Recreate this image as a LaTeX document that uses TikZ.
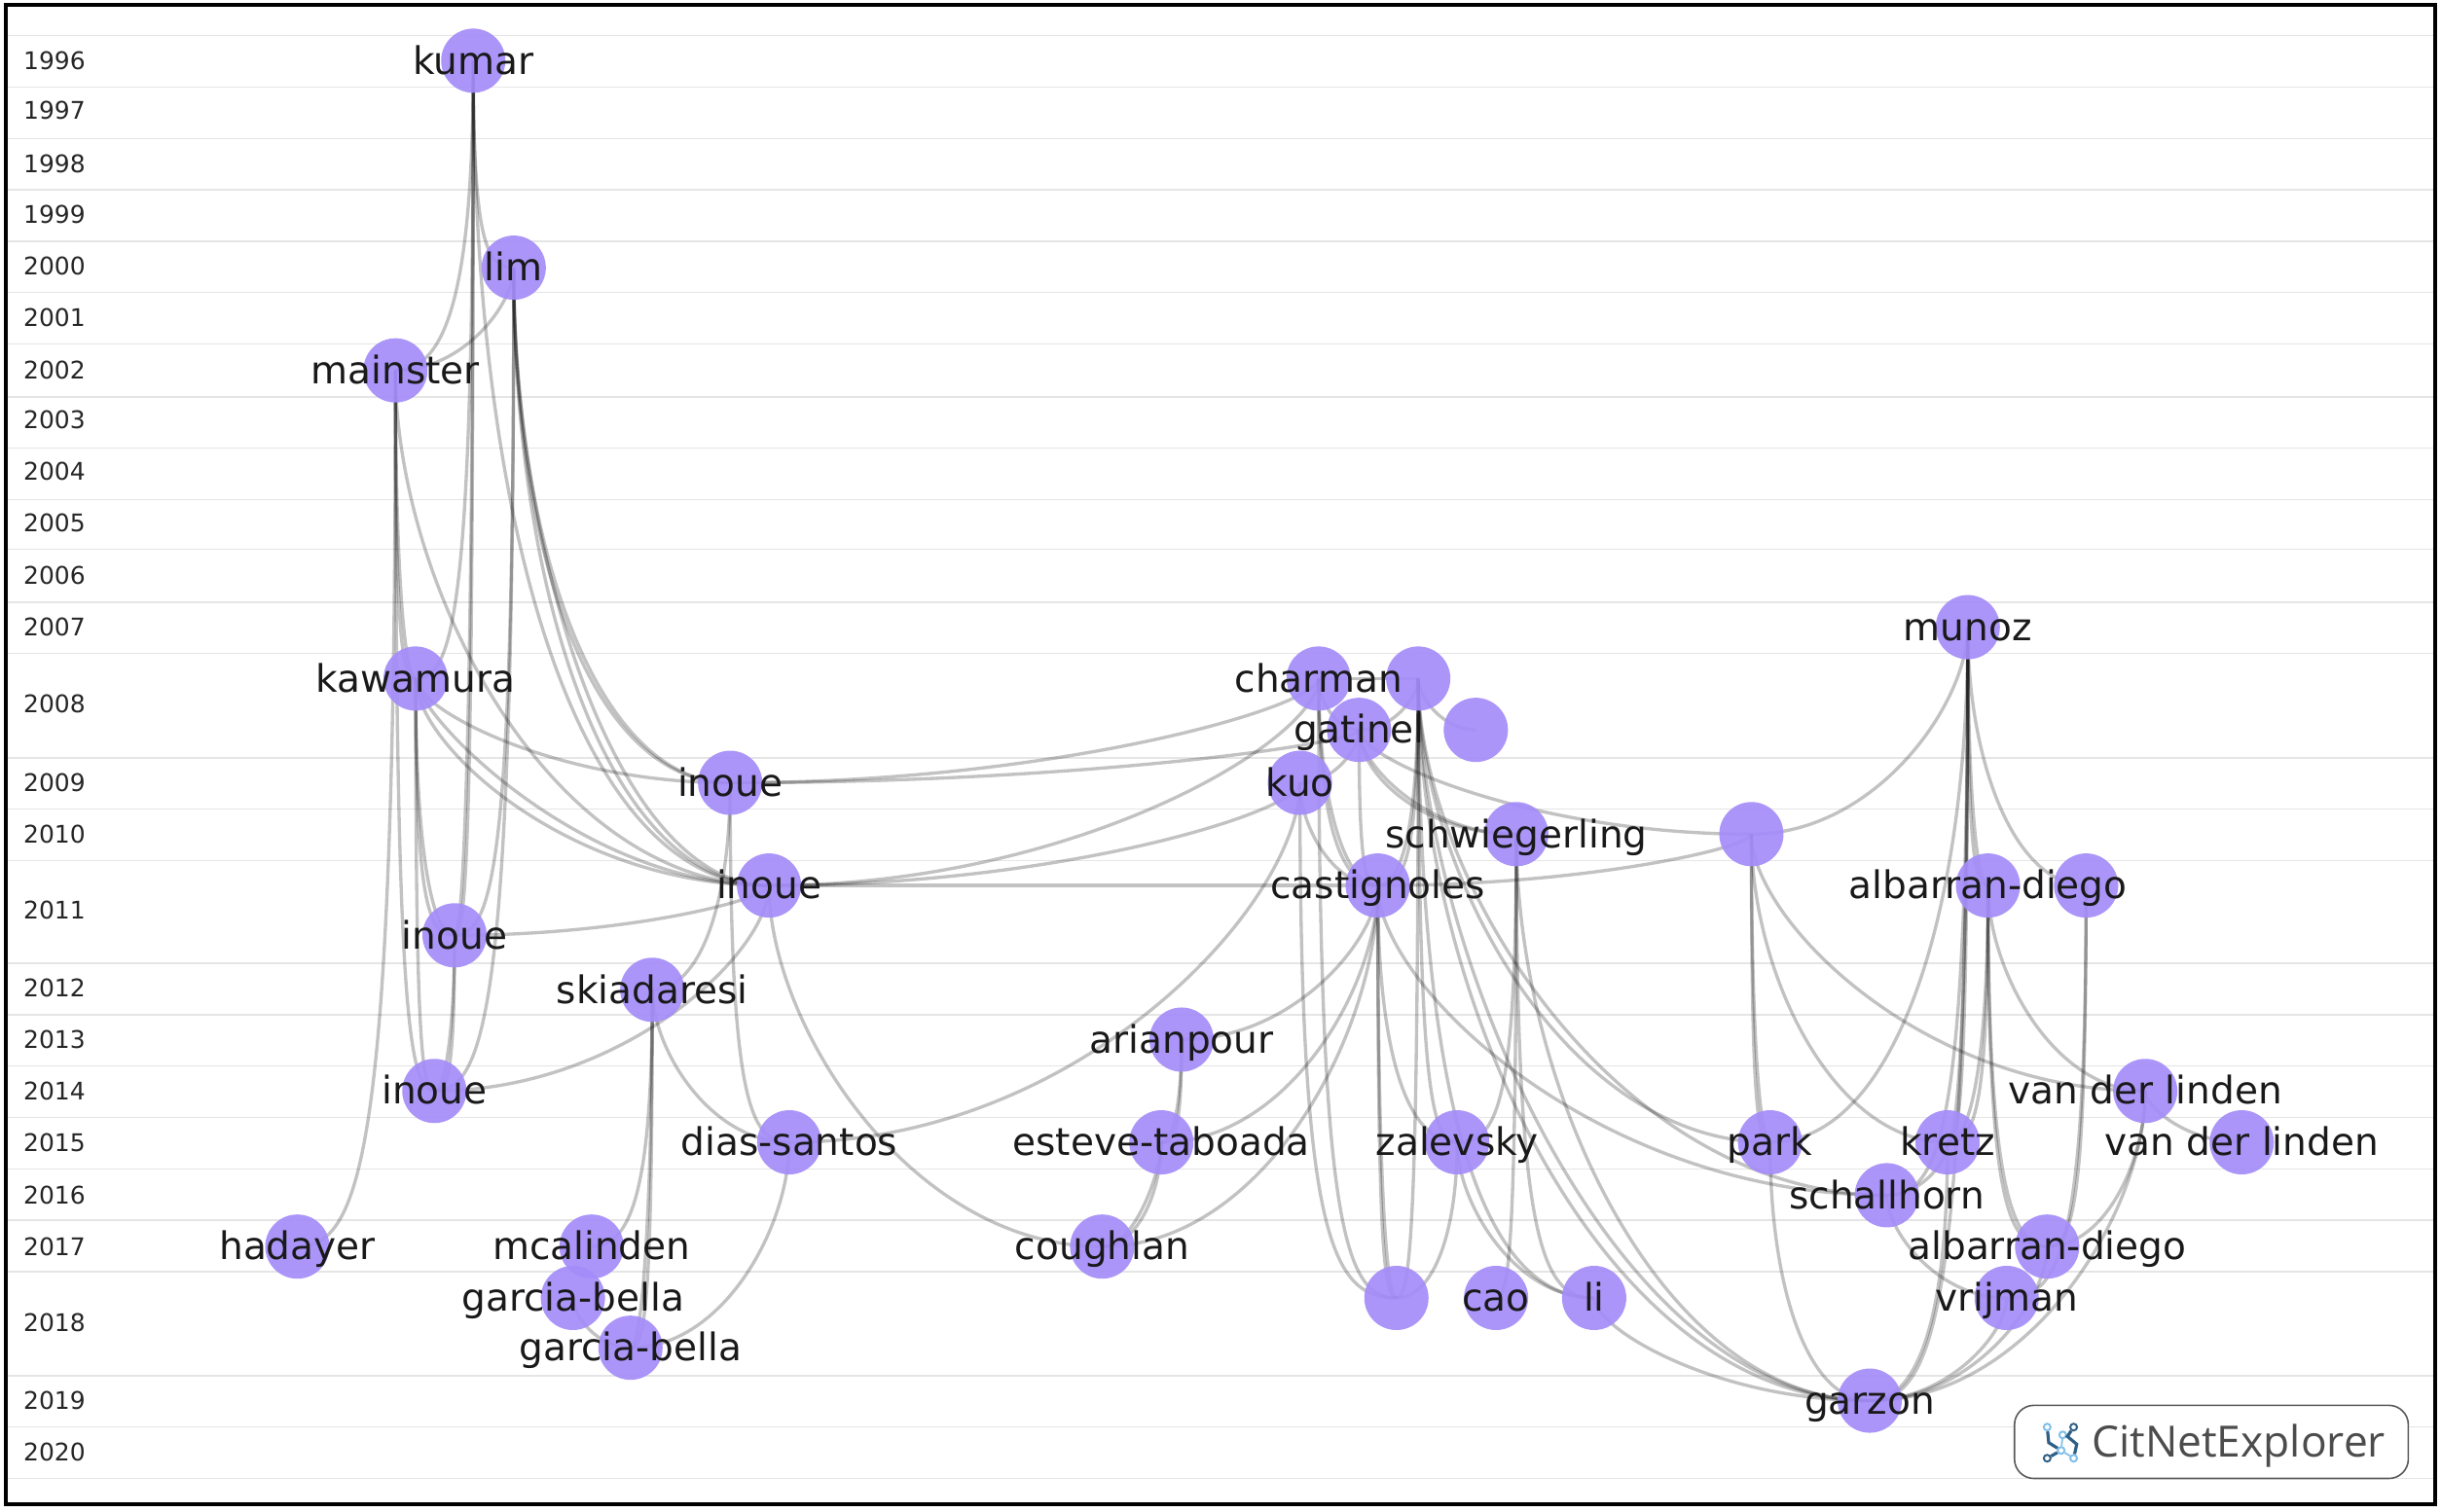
\documentclass[tikz,border=0pt]{standalone}
\usepackage{fontspec}
\setmainfont{DejaVu Sans}
\newfontfamily\logofont{Open Sans}
\usetikzlibrary{calc,backgrounds}

\definecolor{nodecol}{HTML}{A58DF9}
\definecolor{logodark}{HTML}{2F5F86}
\definecolor{logolight}{HTML}{7FBFE8}

\tikzset{
  link/.style={to path={let \p1=(\tikztostart),\p2=(\tikztotarget),
      \n1={min(.88,.25+.125*abs(\y2-\y1)/max(abs(\x2-\x1),1))+#1},\n2={.5+.2*\n1} in
    (\tikztostart.center) .. controls (\x1,{\y1+\n1*(\y2-\y1)}) and ({\x2+\n2*(\x1-\x2)},\y2) .. (\tikztotarget.center) \tikztonodes}},
  link/.default=0,
  gridline/.style={draw=black!10,line width=0.4pt}
}

\begin{document}
\begin{tikzpicture}[x=0.015995cm,y=-0.015995cm]
      \useasboundingbox (0,0) rectangle (1568,971);

      \begin{scope}[every node/.style={circle,fill=nodecol,fill opacity=.93,inner sep=0pt,minimum size=0.66cm}]
        \node (kumar)  at (304,39)  {};
        \node (lim)  at (330,172)  {};
        \node (mainster)  at (254,238)  {};
        \node (kawamura)  at (267,436)  {};
        \node (inoue1)  at (469,503)  {};
        \node (inoue2)  at (494,569)  {};
        \node (inoue3)  at (292,601)  {};
        \node (skiadaresi)  at (419,636)  {};
        \node (inoue4)  at (279,701)  {};
        \node (diassantos)  at (507,734)  {};
        \node (hadayer)  at (191,801)  {};
        \node (mcalinden)  at (380,801)  {};
        \node (garcia1)  at (368,834)  {};
        \node (garcia2)  at (405,866)  {};
        \node (charman)  at (847,436)  {};
        \node (blank1)  at (911,436)  {};
        \node (gatinel)  at (873,469)  {};
        \node (blank2)  at (948,469)  {};
        \node (kuo)  at (835,503)  {};
        \node (schwiegerling)  at (974,536)  {};
        \node (blank3)  at (1125,536)  {};
        \node (castignoles)  at (885,569)  {};
        \node (arianpour)  at (759,668)  {};
        \node (esteve)  at (746,734)  {};
        \node (coughlan)  at (708,801)  {};
        \node (zalevsky)  at (936,734)  {};
        \node (blank4)  at (897,834)  {};
        \node (cao)  at (961,834)  {};
        \node (li)  at (1024,834)  {};
        \node (munoz)  at (1264,403)  {};
        \node (albarran1)  at (1277,569)  {};
        \node (albarran2)  at (1340,569)  {};
        \node (linden1)  at (1378,701)  {};
        \node (linden2)  at (1440,734)  {};
        \node (park)  at (1137,734)  {};
        \node (kretz)  at (1251,734)  {};
        \node (schallhorn)  at (1212,768)  {};
        \node (albarran3)  at (1315,801)  {};
        \node (vrijman)  at (1289,834)  {};
        \node (garzon)  at (1201,900)  {};
      \end{scope}

      \begin{scope}[on background layer]
        \foreach \yy in {23,56,89,122,155,188,221,255,288,321,353,387,420,487,520,553,619,652,685,718,751,784,817,884,917,950}
          \draw[gridline] (3,\yy) -- (1563,\yy);

        \begin{scope}[every edge/.style={draw=black,draw opacity=.24,line width=0.95pt,link}]
          \path (kumar) edge (lim) edge (mainster) edge (kawamura) edge (inoue3) edge[link=-.25] (inoue3) edge (inoue2);
          \path (lim) edge (mainster) edge (inoue1) edge[link=.04] (inoue1) edge (inoue2) edge[link=-.08] (inoue2) edge (inoue3) edge (inoue4);
          \path (mainster) edge (kawamura) edge[link=-.3] (kawamura) edge (inoue4) edge (hadayer) edge (inoue2);
          \path (kawamura) edge (inoue1) edge (inoue2) edge[link=-.15] (inoue2) edge (inoue3) edge[link=-.25] (inoue3) edge (inoue4);
          \path (inoue3) edge (inoue4) edge[link=-.35] (inoue4);
          \path (inoue2) edge (inoue3) edge (inoue4) edge (coughlan);
          \path (inoue1) edge (skiadaresi) edge (diassantos);
          \path (skiadaresi) edge (diassantos) edge (mcalinden) edge (garcia2) edge[link=-.35] (garcia2);
          \path (garcia1) edge (garcia2);
          \path (diassantos) edge (garcia2);

          \path (charman) edge (inoue1) edge (inoue2) edge (gatinel) edge (castignoles) edge[link=-.15] (castignoles) edge (blank4);
          \path (gatinel) edge (inoue1) edge (kuo) edge (castignoles) edge (schwiegerling) edge[link=.1] (schwiegerling) edge (blank3);
          \path (kuo) edge (inoue2) edge (diassantos) edge (castignoles) edge (blank4);
          \path (blank1) edge (charman) edge (gatinel) edge (blank2) edge (castignoles) edge[link=-.2] (castignoles) edge (blank4) edge (zalevsky) edge (li) edge (park) edge (schallhorn) edge (garzon) edge[link=-.08] (garzon);
          \path (castignoles) edge (inoue2) edge (arianpour) edge (esteve) edge (coughlan) edge (zalevsky) edge (blank4) edge[link=-.25] (blank4) edge (schallhorn);
          \path (schwiegerling) edge (zalevsky) edge (cao) edge (li) edge (garzon);
          \path (zalevsky) edge (blank4) edge (li);
          \path (arianpour) edge (esteve) edge[link=-.3] (esteve);
          \path (esteve) edge (coughlan) edge[link=-.2] (coughlan);

          \path (blank3) edge (castignoles) edge (park) edge[link=-.3] (park) edge (kretz) edge (linden1);
          \path (munoz) edge (blank3) edge (park) edge (albarran1) edge[link=-.3] (albarran1) edge (albarran2) edge (kretz) edge[link=-.25] (kretz) edge (schallhorn) edge (garzon);
          \path (albarran1) edge (kretz) edge[link=-.25] (kretz) edge (albarran3) edge[link=-.1] (albarran3) edge (linden1);
          \path (albarran2) edge (albarran3) edge (vrijman);
          \path (linden1) edge (linden2) edge (albarran3) edge (garzon);
          \path (schallhorn) edge (vrijman);
          \path (kretz) edge (schallhorn) edge (garzon);
          \path (park) edge (garzon);
          \path (li) edge (garzon);
          \path (vrijman) edge (garzon);
          \path (albarran3) edge (garzon);
        \end{scope}
      \end{scope}

      % author names on top of the circles
      \begin{scope}[every node/.style={text=black!90,inner sep=0pt,text height=7.8pt,text depth=0pt,font=\fontsize{11.1}{13}\selectfont}]
        \node (kumarlab) at (kumar) {kumar};
        \node (limlab) at (lim) {lim};
        \node (mainsterlab) at (mainster) {mainster};
        \node (kawamuralab) at (kawamura) {kawamura};
        \node (inoue1lab) at (inoue1) {inoue};
        \node (inoue2lab) at (inoue2) {inoue};
        \node (inoue3lab) at (inoue3) {inoue};
        \node (skiadaresilab) at (skiadaresi) {skiadaresi};
        \node (inoue4lab) at (inoue4) {inoue};
        \node (diassantoslab) at (diassantos) {dias-santos};
        \node (hadayerlab) at (hadayer) {hadayer};
        \node (mcalindenlab) at (mcalinden) {mcalinden};
        \node (garcia1lab) at (garcia1) {garcia-bella};
        \node (garcia2lab) at (garcia2) {garcia-bella};
        \node (charmanlab) at (charman) {charman};
        \node (gatinellab) at (gatinel) {gatinel};
        \node (kuolab) at (kuo) {kuo};
        \node (schwiegerlinglab) at (schwiegerling) {schwiegerling};
        \node (castignoleslab) at (castignoles) {castignoles};
        \node (arianpourlab) at (arianpour) {arianpour};
        \node (estevelab) at (esteve) {esteve-taboada};
        \node (coughlanlab) at (coughlan) {coughlan};
        \node (zalevskylab) at (zalevsky) {zalevsky};
        \node (caolab) at (cao) {cao};
        \node (lilab) at (li) {li};
        \node (munozlab) at (munoz) {munoz};
        \node (albarran1lab) at (albarran1) {albarran-diego};
        \node (linden1lab) at (linden1) {van der linden};
        \node (linden2lab) at (linden2) {van der linden};
        \node (parklab) at (park) {park};
        \node (kretzlab) at (kretz) {kretz};
        \node (schallhornlab) at (schallhorn) {schallhorn};
        \node (albarran3lab) at (albarran3) {albarran-diego};
        \node (vrijmanlab) at (vrijman) {vrijman};
        \node (garzonlab) at (garzon) {garzon};
      \end{scope}

      \foreach \lab/\yy in {1996/39,1997/71,1998/105,1999/138,2000/171,2001/204,2002/238,2003/270,2004/303,2005/336,2006/370,2007/403,2008/452,2009/503,2010/536,2011/585,2012/635,2013/668,2014/701,2015/734,2016/768,2017/801,2018/850,2019/900,2020/933}
        \node[text=black!85,font=\fontsize{7.1}{9}\selectfont] (y\lab) at (35,\yy) {\lab};

      % logo box
      \draw[draw=black!65,line width=0.45pt,fill=white,rounded corners=0.2cm] (1294,903) rectangle (1547,950);
      \node[text=black!70,inner sep=0pt,text height=9pt,text depth=0pt,font=\logofont\fontsize{12.6}{15}\selectfont] (logotext) at (1438,926.5) {CitNetExplorer};
      \begin{scope}[every node/.style={circle,inner sep=0pt,minimum size=0.07cm,line width=0.55pt}]
        \node[draw=logolight] (ring1) at (1315,917) {};
        \node[draw=logolight] (ring2) at (1325,922) {};
        \node[draw=logolight] (ring3) at (1324,932) {};
        \node[draw=logolight] (ring4) at (1332,937) {};
        \node[draw=logodark] (ring5) at (1332,917) {};
        \node[draw=logodark] (ring6) at (1315,937) {};
      \end{scope}
      \draw[logodark,line width=0.9pt] (ring1) -- (1316,927) -- (ring3);
      \draw[logodark,line width=0.9pt] (ring5) -- (1328,923) -- (1334,928) -- (ring4);
      \draw[logodark,line width=0.9pt] (ring6) -- (ring3);
      \draw[logolight,line width=0.5pt] (ring2) -- (ring3);
      \draw[logolight,line width=0.5pt] (ring3) -- (ring4);

      \draw[line width=1.1pt] (3.5,3.2) rectangle (1564,966.5);
    \end{tikzpicture}
\end{document}
